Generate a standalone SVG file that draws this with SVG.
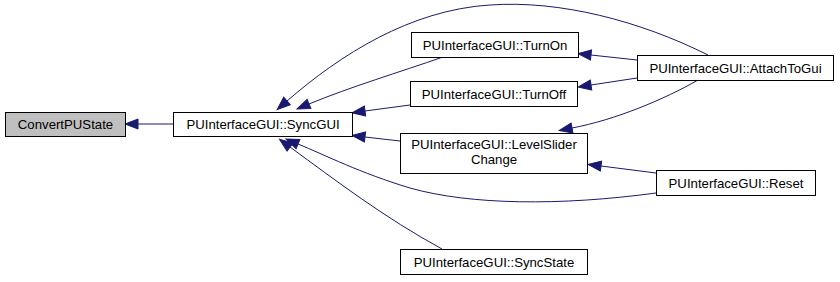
<svg xmlns="http://www.w3.org/2000/svg" width="840" height="282" viewBox="0 0 840 282">
  <style>
    .node rect { fill: #ffffff; stroke: #000000; stroke-width: 1; }
    .node.root rect { fill: #bfbfbf; }
    .node text { font-family: "Liberation Sans", Arial, Helvetica, sans-serif; font-size: 13.2px; fill: #000000; text-anchor: middle; }
    .edge { fill: none; stroke: #191970; stroke-width: 1; marker-end: url(#arrow); }
  </style>
  <defs>
    <!-- filled arrowhead; the path ends at the arrow base, the tip lies 13px further on -->
    <marker id="arrow" markerUnits="userSpaceOnUse" markerWidth="15" markerHeight="12" viewBox="0 -6 15 12" refX="0" refY="0" orient="auto" overflow="visible">
      <path d="M0,-5 L13,0 L0,5 Z" fill="#191970" stroke="#191970" stroke-width="1"/>
    </marker>
  </defs>

  <g id="edges">
    <!-- SyncGUI -> ConvertPUState -->
    <path class="edge" d="M173,124 L138,124"/>
    <!-- AttachToGui -> SyncGUI (upper arc) -->
    <path class="edge" d="M708,55 C640,21 560,0 490,5 C410,10 340,55 287,101"/>
    <!-- TurnOn -> SyncGUI -->
    <path class="edge" d="M443,57 C400,72 350,87 309,104"/>
    <!-- TurnOff -> SyncGUI -->
    <path class="edge" d="M410,105 L365,111"/>
    <!-- LevelSliderChange -> SyncGUI -->
    <path class="edge" d="M400,141 L365,137"/>
    <!-- Reset -> SyncGUI (lower arc) -->
    <path class="edge" d="M656,193 C560,206 470,205 410,188 C360,173 325,155 298,144"/>
    <!-- SyncState -> SyncGUI -->
    <path class="edge" d="M442,249 C385,218 335,180 290,147"/>
    <!-- AttachToGui -> TurnOn -->
    <path class="edge" d="M637,60 L591,55"/>
    <!-- AttachToGui -> TurnOff -->
    <path class="edge" d="M637,78 L591,85"/>
    <!-- AttachToGui -> LevelSliderChange -->
    <path class="edge" d="M698,80 C665,99 615,120 572,128"/>
    <!-- Reset -> LevelSliderChange -->
    <path class="edge" d="M656,173 L601,166"/>
  </g>

  <g id="node-convertpustate" class="node root">
    <rect x="5.5" y="112.5" width="120" height="24"/>
    <text x="65.5" y="129">ConvertPUState</text>
  </g>
  <g id="node-syncgui" class="node">
    <rect x="173.5" y="112.5" width="179" height="24"/>
    <text x="263" y="129">PUInterfaceGUI::SyncGUI</text>
  </g>
  <g id="node-turnon" class="node">
    <rect x="411.5" y="32.5" width="167" height="25"/>
    <text x="495" y="49.5">PUInterfaceGUI::TurnOn</text>
  </g>
  <g id="node-turnoff" class="node">
    <rect x="410.5" y="81.5" width="167" height="25"/>
    <text x="494" y="98.5">PUInterfaceGUI::TurnOff</text>
  </g>
  <g id="node-levelsliderchange" class="node">
    <rect x="400.5" y="133.5" width="187" height="40"/>
    <text x="494" y="149">PUInterfaceGUI::LevelSlider</text>
    <text x="494" y="164">Change</text>
  </g>
  <g id="node-syncstate" class="node">
    <rect x="400.5" y="249.5" width="187" height="25"/>
    <text x="494" y="266.5">PUInterfaceGUI::SyncState</text>
  </g>
  <g id="node-attachtogui" class="node">
    <rect x="637.5" y="55.5" width="196" height="25"/>
    <text x="735.5" y="72.5">PUInterfaceGUI::AttachToGui</text>
  </g>
  <g id="node-reset" class="node">
    <rect x="656.5" y="170.5" width="159" height="25"/>
    <text x="736" y="187.5">PUInterfaceGUI::Reset</text>
  </g>
</svg>
